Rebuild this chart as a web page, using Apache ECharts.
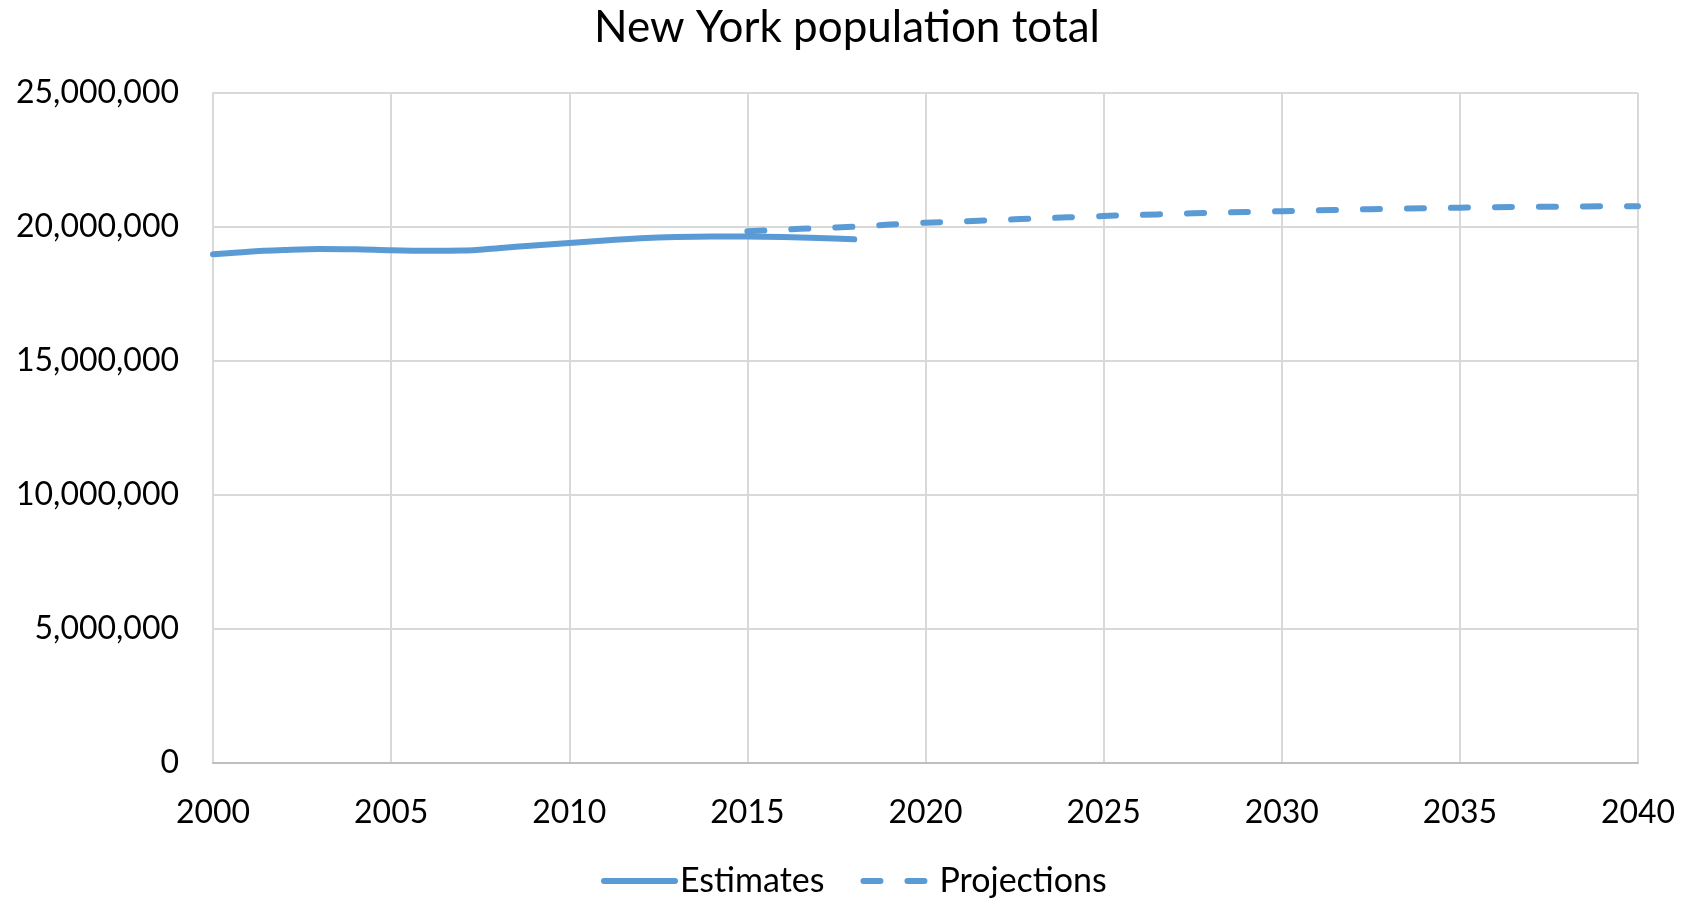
<!DOCTYPE html>
<html>
<head>
<meta charset="utf-8">
<script src="https://cdn.jsdelivr.net/npm/echarts@6/dist/echarts.min.js"></script>
<style>
  html, body { margin: 0; padding: 0; background: #fff; }
  #chart { width: 1694px; height: 899px; }
</style>
</head>
<body>
<div id="chart"></div>
<script>
const titleText = 'New York population total';
const estimateYears = [2000,2001,2002,2003,2004,2005,2006,2007,2008,2009,2010,2011,2012,2013,2014,2015,2016,2017,2018];
const estimateValues = [18980000,19080000,19140000,19180000,19170000,19130000,19110000,19120000,19210000,19310000,19400000,19500000,19580000,19630000,19650000,19650000,19630000,19590000,19540000];
const projectionYears = [2015,2016,2017,2018,2019,2020,2021,2022,2023,2024,2025,2026,2027,2028,2029,2030,2031,2032,2033,2034,2035,2036,2037,2038,2039,2040];
const projectionValues = [19840000,19900000,19960000,20010000,20090000,20160000,20210000,20260000,20310000,20360000,20410000,20450000,20490000,20530000,20560000,20590000,20620000,20650000,20680000,20700000,20720000,20740000,20750000,20760000,20770000,20770000];
const seriesNames = ['Estimates', 'Projections'];

const FONT = 'Lato';
const BLUE = '#5B9BD5';

const chart = echarts.init(document.getElementById('chart'), null, { renderer: 'canvas' });
chart.setOption({
  animation: false,
  backgroundColor: '#ffffff',
  title: {
    text: titleText,
    left: 'center',
    top: 1,
    textStyle: { fontFamily: FONT, fontSize: 44, fontWeight: 'normal', color: '#000' }
  },
  legend: {
    show: true,
    data: seriesNames,
    left: 596,
    top: 859,
    itemWidth: 71,
    itemHeight: 2,
    itemGap: 36,
    itemStyle: { opacity: 0 },
    lineStyle: { width: 6, cap: 'round' },
    textStyle: { fontFamily: FONT, fontSize: 34, color: '#000' }
  },
  grid: { left: 213, right: 56, top: 93, bottom: 136, containLabel: false },
  xAxis: {
    type: 'value',
    min: 2000,
    max: 2040,
    interval: 5,
    axisLine: { show: true, lineStyle: { color: '#BFBFBF', width: 2 } },
    axisTick: { show: false },
    splitLine: { show: true, lineStyle: { color: '#D9D9D9', width: 2 } },
    axisLabel: {
      margin: 34,
      fontFamily: FONT, fontSize: 32, color: '#000',
      formatter: v => String(v)
    }
  },
  yAxis: {
    type: 'value',
    min: 0,
    max: 25000000,
    interval: 5000000,
    axisLine: { show: true, lineStyle: { color: '#D9D9D9', width: 2 } },
    axisTick: { show: false },
    splitLine: { show: true, lineStyle: { color: '#D9D9D9', width: 2 } },
    axisLabel: {
      margin: 34,
      fontFamily: FONT, fontSize: 32, color: '#000',
      formatter: v => v.toLocaleString('en-US')
    }
  },
  series: [
    {
      name: seriesNames[0],
      type: 'line',
      data: estimateYears.map((y, i) => [y, estimateValues[i]]),
      smooth: 0.3,
      symbol: 'none',
      lineStyle: { color: BLUE, width: 6, cap: 'round', join: 'round' },
      itemStyle: { color: BLUE },
      z: 3
    },
    {
      name: seriesNames[1],
      type: 'line',
      data: projectionYears.map((y, i) => [y, projectionValues[i]]),
      smooth: 0.3,
      symbol: 'none',
      lineStyle: { color: BLUE, width: 6, type: [17, 27], cap: 'round', join: 'round' },
      itemStyle: { color: BLUE },
      z: 2
    }
  ]
});
</script>
</body>
</html>
